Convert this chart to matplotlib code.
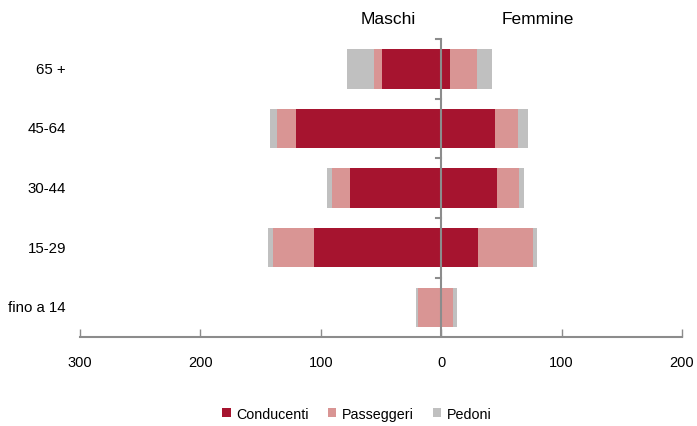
import matplotlib.pyplot as plt
import numpy as np

# Age groups (bottom to top)
classi = ['fino a 14', '15-29', '30-44', '45-64', '65 +']

# Maschi (drawn to the left)
m_conducenti = [0, 106, 76, 121, 49]
m_passeggeri = [19.5, 34, 15, 15, 7]
m_pedoni = [1.5, 4, 4, 6, 22]

# Femmine (drawn to the right)
f_conducenti = [0, 30.5, 46, 45, 7]
f_passeggeri = [10, 46, 19, 19, 23]
f_pedoni = [3, 3, 4, 8, 12]

col_cond = '#A6142F'
col_pass = '#D99594'
col_ped = '#C0C0C0'
col_axis = '#8C8C8C'

plt.rcParams['font.family'] = ['Liberation Sans', 'DejaVu Sans']

fig = plt.figure(figsize=(6.97, 4.27), dpi=100)
ax = fig.add_axes([80 / 697, 1 - 338.2 / 427, 602 / 697, 298.2 / 427])

y = np.arange(len(classi))
h = 0.66

mc = -np.array(m_conducenti)
mp = -np.array(m_passeggeri)
md = -np.array(m_pedoni)
ax.barh(y, mc, h, color=col_cond, label='Conducenti')
ax.barh(y, mp, h, left=mc, color=col_pass, label='Passeggeri')
ax.barh(y, md, h, left=mc + mp, color=col_ped, label='Pedoni')

fc = np.array(f_conducenti)
fp = np.array(f_passeggeri)
fd = np.array(f_pedoni)
ax.barh(y, fc, h, color=col_cond)
ax.barh(y, fp, h, left=fc, color=col_pass)
ax.barh(y, fd, h, left=fc + fp, color=col_ped)

ax.set_xlim(-300, 200)
ax.set_ylim(-0.5, 4.5)

# center line with small ticks between categories
ax.axvline(0, color=col_axis, lw=1.5, zorder=5)
for b in np.arange(0.5, 5, 1.0):
    ax.plot([-4, 0], [b, b], color=col_axis, lw=1.5, zorder=5, clip_on=False)

for s in ['left', 'right', 'top']:
    ax.spines[s].set_visible(False)
ax.spines['bottom'].set_color(col_axis)
ax.spines['bottom'].set_linewidth(1.5)

xt = [-300, -200, -100, 0, 100, 200]
ax.set_xticks(xt)
ax.set_xticklabels([str(abs(v)) for v in xt], fontsize=10.5)
ax.tick_params(axis='x', direction='in', length=6, width=1, color=col_axis, pad=13)

# category labels, right-aligned left of the plot
ax.set_yticks([])
for yi, lab in zip(y, classi):
    ax.text(-14 / 602, yi, lab, transform=ax.get_yaxis_transform(),
            ha='right', va='center', fontsize=10.8)

fig.text(388 / 697, 1 - 20 / 427, 'Maschi', ha='center', va='center', fontsize=12.5)
fig.text(538 / 697, 1 - 20 / 427, 'Femmine', ha='center', va='center', fontsize=12.5)

fig.legend(loc='center', bbox_to_anchor=(357 / 697, 1 - 415 / 427), ncol=3, frameon=False,
           fontsize=10.3, handlelength=0.6, handleheight=0.6, handletextpad=0.4, columnspacing=1.3)

fig.savefig('out.png', dpi=100)
